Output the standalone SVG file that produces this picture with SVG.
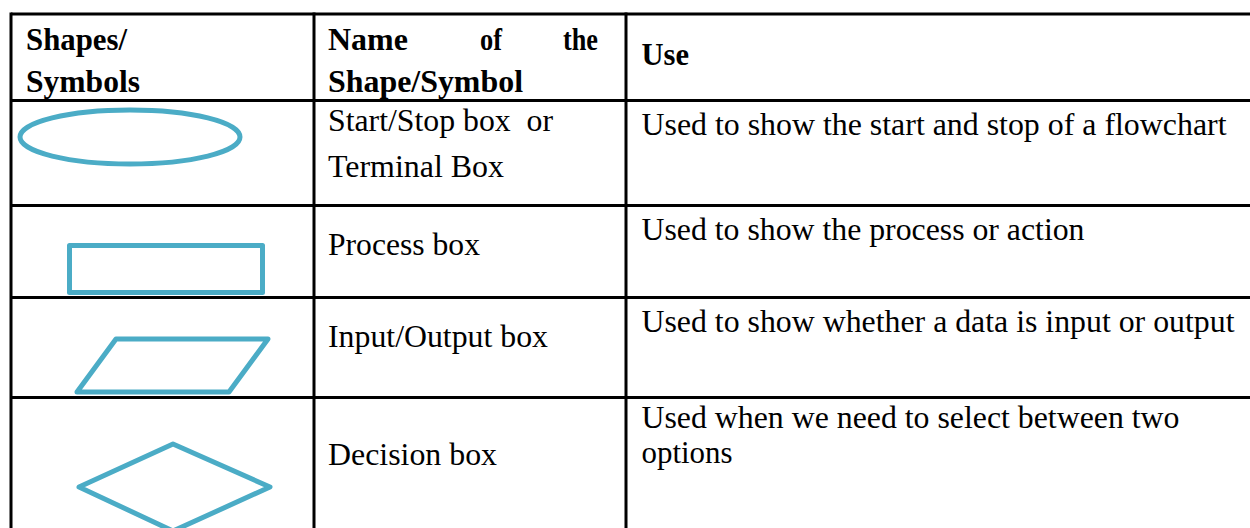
<svg xmlns="http://www.w3.org/2000/svg" width="1250" height="528" viewBox="0 0 1250 528">
<style>
.grid{stroke:#000;stroke-width:3;fill:none}
.shape{stroke:#4BACC6;stroke-width:5;fill:none;stroke-linejoin:round}
.t{font-family:"Liberation Serif","Times New Roman",serif;font-size:31.5px;fill:#000}
.b{font-weight:bold}
</style>
<rect width="1250" height="528" fill="#fff"/>
<g id="table-grid">
<line class="grid" x1="11" y1="14" x2="1250" y2="14"/>
<line class="grid" x1="11" y1="100.5" x2="1250" y2="100.5"/>
<line class="grid" x1="11" y1="205.5" x2="1250" y2="205.5"/>
<line class="grid" x1="11" y1="297.5" x2="1250" y2="297.5"/>
<line class="grid" x1="11" y1="397.5" x2="1250" y2="397.5"/>
<line class="grid" x1="11" y1="12.5" x2="11" y2="528"/>
<line class="grid" x1="314" y1="12.5" x2="314" y2="528"/>
<line class="grid" x1="626" y1="12.5" x2="626" y2="528"/>
</g>
<g id="header">
<text class="t b" x="26" y="50" textLength="101" lengthAdjust="spacingAndGlyphs">Shapes/</text>
<text class="t b" x="26" y="92" textLength="114" lengthAdjust="spacingAndGlyphs">Symbols</text>
<text class="t b" x="328" y="50" textLength="80" lengthAdjust="spacingAndGlyphs">Name</text>
<text class="t b" x="480" y="50" textLength="22" lengthAdjust="spacingAndGlyphs">of</text>
<text class="t b" x="563" y="50" textLength="35" lengthAdjust="spacingAndGlyphs">the</text>
<text class="t b" x="328" y="92" textLength="195" lengthAdjust="spacingAndGlyphs">Shape/Symbol</text>
<text class="t b" x="641.5" y="65" textLength="47.5" lengthAdjust="spacingAndGlyphs">Use</text>
</g>
<g id="row-terminal">
<ellipse class="shape" cx="130" cy="137" rx="110" ry="27"/>
<text class="t" x="328" y="131" textLength="225" lengthAdjust="spacingAndGlyphs">Start/Stop box&#160; or</text>
<text class="t" x="328" y="177" textLength="176" lengthAdjust="spacingAndGlyphs">Terminal Box</text>
<text class="t" x="641.5" y="135" textLength="585" lengthAdjust="spacingAndGlyphs">Used to show the start and stop of a flowchart</text>
</g>
<g id="row-process">
<rect class="shape" x="69.5" y="245.5" width="193" height="47" stroke-linejoin="miter"/>
<text class="t" x="328" y="255" textLength="152" lengthAdjust="spacingAndGlyphs">Process box</text>
<text class="t" x="641.5" y="240" textLength="443" lengthAdjust="spacingAndGlyphs">Used to show the process or action</text>
</g>
<g id="row-io">
<polygon class="shape" points="116,339 268,339 229,392 77,392"/>
<text class="t" x="328" y="347" textLength="220" lengthAdjust="spacingAndGlyphs">Input/Output box</text>
<text class="t" x="641.5" y="331.5" textLength="593" lengthAdjust="spacingAndGlyphs">Used to show whether a data is input or output</text>
</g>
<g id="row-decision">
<polygon class="shape" points="173,444 270,487 173,531 79,487"/>
<text class="t" x="328" y="465" textLength="169" lengthAdjust="spacingAndGlyphs">Decision box</text>
<text class="t" x="641.5" y="427.5" textLength="538" lengthAdjust="spacingAndGlyphs">Used when we need to select between two</text>
<text class="t" x="641.5" y="463" textLength="91" lengthAdjust="spacingAndGlyphs">options</text>
</g>
</svg>
